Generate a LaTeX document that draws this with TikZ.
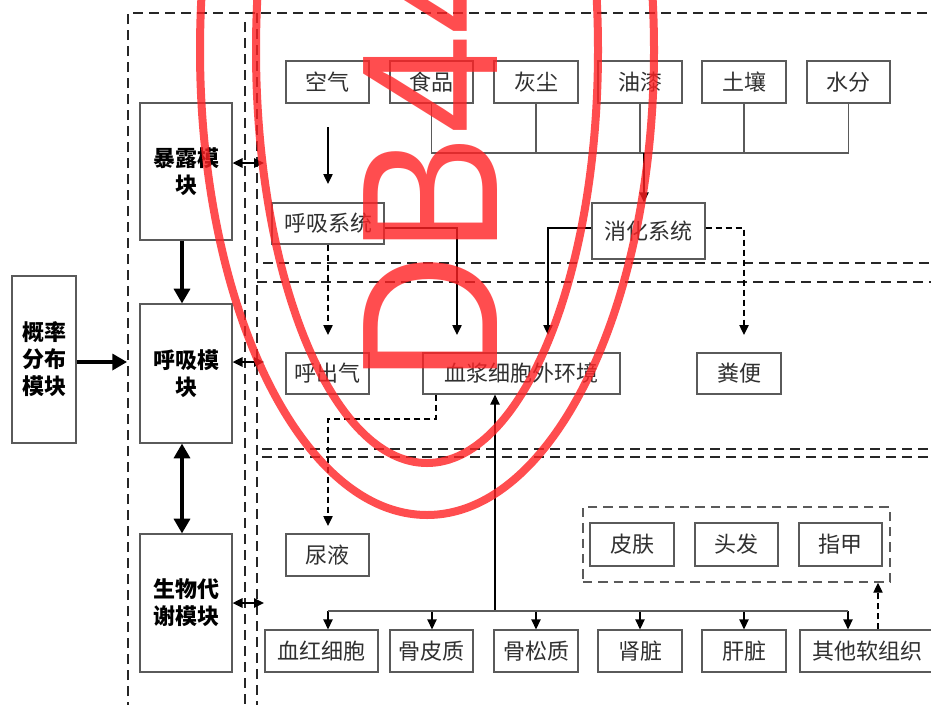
\documentclass[tikz,border=0pt]{standalone}
\usepackage{fontspec}
\newfontfamily\cjk{Noto Sans CJK SC}
\newfontfamily\wmfont{Liberation Sans}
\usetikzlibrary{arrows.meta}
\definecolor{boxgray}{HTML}{5A5A5A}
\definecolor{txtgray}{HTML}{303030}
\definecolor{wmred}{RGB}{255,33,36}
\newcommand\BOX[7][]{\node[box,#1,minimum width={(#5-#3)*0.75pt},minimum height={(#6-#4)*0.75pt}] (#2) at ({(#3+#5)/2},{(#4+#6)/2}) {#7};}
\begin{document}
\begin{tikzpicture}[x=0.75pt,y=-0.75pt,
  box/.style={draw=boxgray,line width=0.9pt,inner sep=0pt,font=\cjk\fontsize{16.5}{20}\selectfont,text=txtgray},
  modbox/.style={font=\cjk\bfseries\fontsize{16.5}{20.25}\selectfont,text=black,align=center},
  grpbox/.style={draw=boxgray,line width=1.1pt,dash pattern=on 7pt off 4.5pt},
  frame/.style={line width=1.4pt,dash pattern=on 7.5pt off 4.5pt,draw=black!85},
  tline/.style={line width=0.9pt,draw=boxgray},
  thinarr/.style={line width=1pt,draw=black,-{Triangle[length=7.5pt,width=7pt]}},
  dasharr/.style={thinarr,dash pattern=on 4.5pt off 3pt},
  thickarr/.style={line width=2.5pt,-{Triangle[length=11pt,width=12pt]}},
  thickdbl/.style={line width=2.5pt,{Triangle[length=11pt,width=12pt]}-{Triangle[length=11pt,width=12pt]}},
  meddbl/.style={line width=1.5pt,{Triangle[length=7.5pt,width=7pt]}-{Triangle[length=7.5pt,width=7pt]}},
  wm/.style={draw=wmred,line width=6pt,opacity=0.8}
]
\useasboundingbox (0,0) rectangle (931,704);
\clip (0,0) rectangle (931,704);
\fill[white] (0,0) rectangle (931,704);
% dashed frames
\draw[frame] (128,760) -- (128,13) -- (990,13);
\draw[frame] (245,22) -- (245,760);
\draw[frame] (257,13) -- (257,760);
\draw[frame] (263,263) -- (990,263);
\draw[frame] (257,282) -- (990,282);
\draw[frame] (262,449) -- (990,449);
\draw[frame] (262,457) -- (990,457);
% module boxes
\BOX[modbox]{prob}{12}{276}{76}{443}{概率\\分布\\模块}
\BOX[modbox]{expo}{140}{103}{232}{240}{暴露模\\块}
\BOX[modbox]{resp}{140}{304}{232}{443}{呼吸模\\块}
\BOX[modbox]{meta}{140}{534}{232}{672}{生物代\\谢模块}
% exposure sources
\BOX{air}{286}{61}{369}{103}{空气}
\BOX{food}{390}{61}{473}{103}{食品}
\BOX{dust}{494}{61}{578}{103}{灰尘}
\BOX{paint}{598}{61}{682}{103}{油漆}
\BOX{soil}{702}{61}{786}{103}{土壤}
\BOX{water}{807}{61}{890}{103}{水分}
\BOX{rsys}{272}{203}{384}{244}{呼吸系统}
\BOX{dig}{592}{203}{705}{259}{消化系统}
% middle
\BOX{exh}{286}{353}{369}{394}{呼出气}
\BOX{plasma}{423}{353}{620}{394}{血浆细胞外环境}
\BOX{feces}{697}{353}{781}{394}{粪便}
% bottom
\BOX{urine}{286}{534}{369}{576}{尿液}
\BOX[grpbox]{grp}{583}{507}{890}{582}{}
\BOX{skin}{590}{523}{674}{566}{皮肤}
\BOX{hair}{695}{523}{778}{566}{头发}
\BOX{nail}{799}{523}{882}{566}{指甲}
\BOX{rbc}{265}{630}{378}{672}{血红细胞}
\BOX{cort}{390}{630}{473}{672}{骨皮质}
\BOX{canc}{494}{630}{578}{672}{骨松质}
\BOX{kid}{598}{630}{682}{672}{肾脏}
\BOX{liv}{702}{630}{786}{672}{肝脏}
\BOX{oth}{800}{630}{934}{672}{其他软组织}
% module arrows
\coordinate (ax) at (182,0);
\draw[thickarr] (expo.south -| ax) -- (resp.north -| ax);
\draw[thickdbl] (resp.south -| ax) -- (meta.north -| ax);
\coordinate (pa) at (127,362);
\draw[thickarr] (prob.east |- pa) -- (pa);
\coordinate (e1) at (264,163);
\coordinate (e2) at (264,362);
\coordinate (e3) at (264,603);
\draw[meddbl] (expo.east |- e1) -- (e1);
\draw[meddbl] (resp.east |- e2) -- (e2);
\draw[meddbl] (meta.east |- e3) -- (e3);
% source tree
\coordinate (bus) at (0,153);
\draw[tline] (food.south) -- (food.south |- bus) -- (water.south |- bus) -- (water.south);
\foreach \n in {dust,paint,soil} \draw[tline] (\n.south) -- (\n.south |- bus);
\coordinate (dgtop) at (644,153);
\draw[thinarr] (dgtop) -- (dgtop |- dig.north);
\coordinate (air1) at (328,127);
\coordinate (air2) at (328,184);
\draw[thinarr] (air1) -- (air2);
% into plasma
\coordinate (h) at (0,228);
\coordinate (pin1) at (457,335);
\coordinate (pin2) at (548,335);
\coordinate (pf) at (744,335);
\coordinate (pe) at (328,335);
\draw[thinarr] (rsys.east |- h) -| (pin1);
\draw[thinarr] (dig.west |- h) -| (pin2);
\draw[dasharr] (dig.east |- h) -| (pf);
\draw[dasharr] (rsys.south) -- (pe);
% urine
\coordinate (u0) at (436,0);
\coordinate (u1) at (0,419);
\coordinate (u2) at (328,526);
\draw[dasharr] (plasma.south -| u0) -- (u0 |- u1) -| (u2);
% tissues
\coordinate (up0) at (495,611);
\draw[thinarr] (up0) -- (up0 |- plasma.south);
\foreach \x/\n in {328/rbc,432/cort,536/canc,640/kid,744/liv,848/oth} {
  \coordinate (d\n) at (\x,611);
  \draw[thinarr] (d\n) -- (d\n |- \n.north);
}
\draw[tline] (drbc) -- (doth);
\coordinate (o1) at (878,0);
\draw[dasharr] (oth.north -| o1) -- (grp.south -| o1);
% watermark
\draw[wm] (427,50) ellipse [x radius=227, y radius=465];
\draw[wm] (427,50) ellipse [x radius=171, y radius=413];
\node[rotate=90,anchor=base west,inner sep=0pt,text=wmred,opacity=0.8,font=\wmfont\fontsize{146}{146}\selectfont] (wmt) at (497,384) {\scalebox{0.92}[1]{DB44}};
\end{tikzpicture}
\end{document}
